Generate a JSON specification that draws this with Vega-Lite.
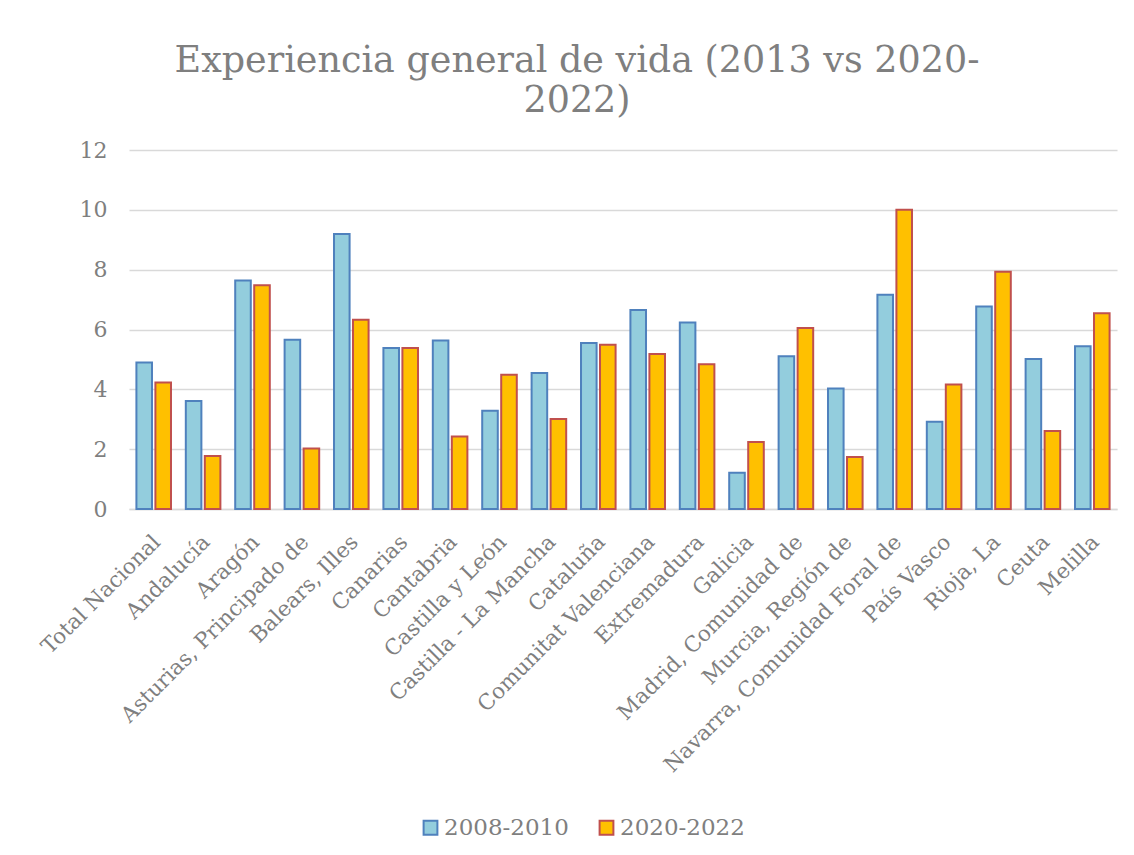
{
  "$schema": "https://vega.github.io/schema/vega-lite/v6.json",
  "width": 988,
  "height": 359,
  "autosize": {"type": "none"},
  "padding": {"left": 129, "top": 150, "right": 17, "bottom": 346},
  "background": "white",
  "title": {
    "text": ["Experiencia general de vida (2013 vs 2020-", "2022)"],
    "anchor": "middle",
    "frame": "group",
    "font": "DejaVu Serif",
    "fontSize": 36.5,
    "fontWeight": "normal",
    "color": "#7f7f7f",
    "lineHeight": 40,
    "offset": 20,
    "dx": -46
  },
  "data": {
    "values": [
      {"region": "Total Nacional", "series": "2008-2010", "value": 4.90},
      {"region": "Total Nacional", "series": "2020-2022", "value": 4.23},
      {"region": "Andalucía", "series": "2008-2010", "value": 3.61},
      {"region": "Andalucía", "series": "2020-2022", "value": 1.77},
      {"region": "Aragón", "series": "2008-2010", "value": 7.64},
      {"region": "Aragón", "series": "2020-2022", "value": 7.48},
      {"region": "Asturias, Principado de", "series": "2008-2010", "value": 5.66},
      {"region": "Asturias, Principado de", "series": "2020-2022", "value": 2.02},
      {"region": "Balears, Illes", "series": "2008-2010", "value": 9.19},
      {"region": "Balears, Illes", "series": "2020-2022", "value": 6.33},
      {"region": "Canarias", "series": "2008-2010", "value": 5.38},
      {"region": "Canarias", "series": "2020-2022", "value": 5.38},
      {"region": "Cantabria", "series": "2008-2010", "value": 5.63},
      {"region": "Cantabria", "series": "2020-2022", "value": 2.42},
      {"region": "Castilla y León", "series": "2008-2010", "value": 3.28},
      {"region": "Castilla y León", "series": "2020-2022", "value": 4.49},
      {"region": "Castilla - La Mancha", "series": "2008-2010", "value": 4.55},
      {"region": "Castilla - La Mancha", "series": "2020-2022", "value": 3.01},
      {"region": "Cataluña", "series": "2008-2010", "value": 5.55},
      {"region": "Cataluña", "series": "2020-2022", "value": 5.49},
      {"region": "Comunitat Valenciana", "series": "2008-2010", "value": 6.65},
      {"region": "Comunitat Valenciana", "series": "2020-2022", "value": 5.18},
      {"region": "Extremadura", "series": "2008-2010", "value": 6.23},
      {"region": "Extremadura", "series": "2020-2022", "value": 4.84},
      {"region": "Galicia", "series": "2008-2010", "value": 1.21},
      {"region": "Galicia", "series": "2020-2022", "value": 2.24},
      {"region": "Madrid, Comunidad de", "series": "2008-2010", "value": 5.11},
      {"region": "Madrid, Comunidad de", "series": "2020-2022", "value": 6.05},
      {"region": "Murcia, Región de", "series": "2008-2010", "value": 4.03},
      {"region": "Murcia, Región de", "series": "2020-2022", "value": 1.74},
      {"region": "Navarra, Comunidad Foral de", "series": "2008-2010", "value": 7.16},
      {"region": "Navarra, Comunidad Foral de", "series": "2020-2022", "value": 10.0},
      {"region": "País Vasco", "series": "2008-2010", "value": 2.92},
      {"region": "País Vasco", "series": "2020-2022", "value": 4.16},
      {"region": "Rioja, La", "series": "2008-2010", "value": 6.77},
      {"region": "Rioja, La", "series": "2020-2022", "value": 7.93},
      {"region": "Ceuta", "series": "2008-2010", "value": 5.01},
      {"region": "Ceuta", "series": "2020-2022", "value": 2.61},
      {"region": "Melilla", "series": "2008-2010", "value": 5.44},
      {"region": "Melilla", "series": "2020-2022", "value": 6.54}
    ]
  },
  "mark": {"type": "bar", "strokeWidth": 2},
  "encoding": {
    "x": {
      "field": "region",
      "type": "nominal",
      "sort": ["Total Nacional", "Andalucía", "Aragón", "Asturias, Principado de", "Balears, Illes", "Canarias", "Cantabria", "Castilla y León", "Castilla - La Mancha", "Cataluña", "Comunitat Valenciana", "Extremadura", "Galicia", "Madrid, Comunidad de", "Murcia, Región de", "Navarra, Comunidad Foral de", "País Vasco", "Rioja, La", "Ceuta", "Melilla"],
      "scale": {"paddingInner": 0.3, "paddingOuter": 0.15},
      "axis": {
        "title": null,
        "labelAngle": -45,
        "labelFont": "DejaVu Serif",
        "labelFontSize": 21.5,
        "labelColor": "#7f7f7f",
        "ticks": false,
        "domainColor": "#d9d9d9",
        "domainWidth": 1.5,
        "labelPadding": 22,
        "labelOffset": -4,
        "labelLimit": 600,
        "labelOverlap": false,
        "labelBound": false
      }
    },
    "xOffset": {
      "field": "series",
      "type": "nominal",
      "sort": ["2008-2010", "2020-2022"],
      "scale": {"paddingInner": 0.18}
    },
    "y": {
      "field": "value",
      "type": "quantitative",
      "scale": {"domain": [0, 12]},
      "axis": {
        "title": null,
        "values": [0, 2, 4, 6, 8, 10, 12],
        "labelFont": "DejaVu Serif",
        "labelFontSize": 22,
        "labelColor": "#7f7f7f",
        "ticks": false,
        "domain": false,
        "gridColor": "#d9d9d9",
        "gridWidth": 1.5,
        "labelPadding": 22
      }
    },
    "fill": {
      "field": "series",
      "type": "nominal",
      "scale": {"domain": ["2008-2010", "2020-2022"], "range": ["#93CDDD", "#FFC000"]},
      "legend": {
        "title": null,
        "orient": "none",
        "legendX": 290,
        "legendY": 666,
        "direction": "horizontal",
        "symbolType": "square",
        "symbolSize": 190,
        "symbolStrokeWidth": 2,
        "labelFont": "DejaVu Serif",
        "labelFontSize": 23,
        "labelColor": "#7f7f7f",
        "columnPadding": 26,
        "labelOffset": 2
      }
    },
    "stroke": {
      "field": "series",
      "type": "nominal",
      "scale": {"domain": ["2008-2010", "2020-2022"], "range": ["#4F81BD", "#C0504D"]},
      "legend": {
        "title": null,
        "orient": "none",
        "legendX": 290,
        "legendY": 666,
        "direction": "horizontal",
        "symbolType": "square",
        "symbolSize": 190,
        "symbolStrokeWidth": 2,
        "labelFont": "DejaVu Serif",
        "labelFontSize": 23,
        "labelColor": "#7f7f7f",
        "columnPadding": 26,
        "labelOffset": 2
      }
    }
  },
  "config": {"view": {"stroke": null}}
}
